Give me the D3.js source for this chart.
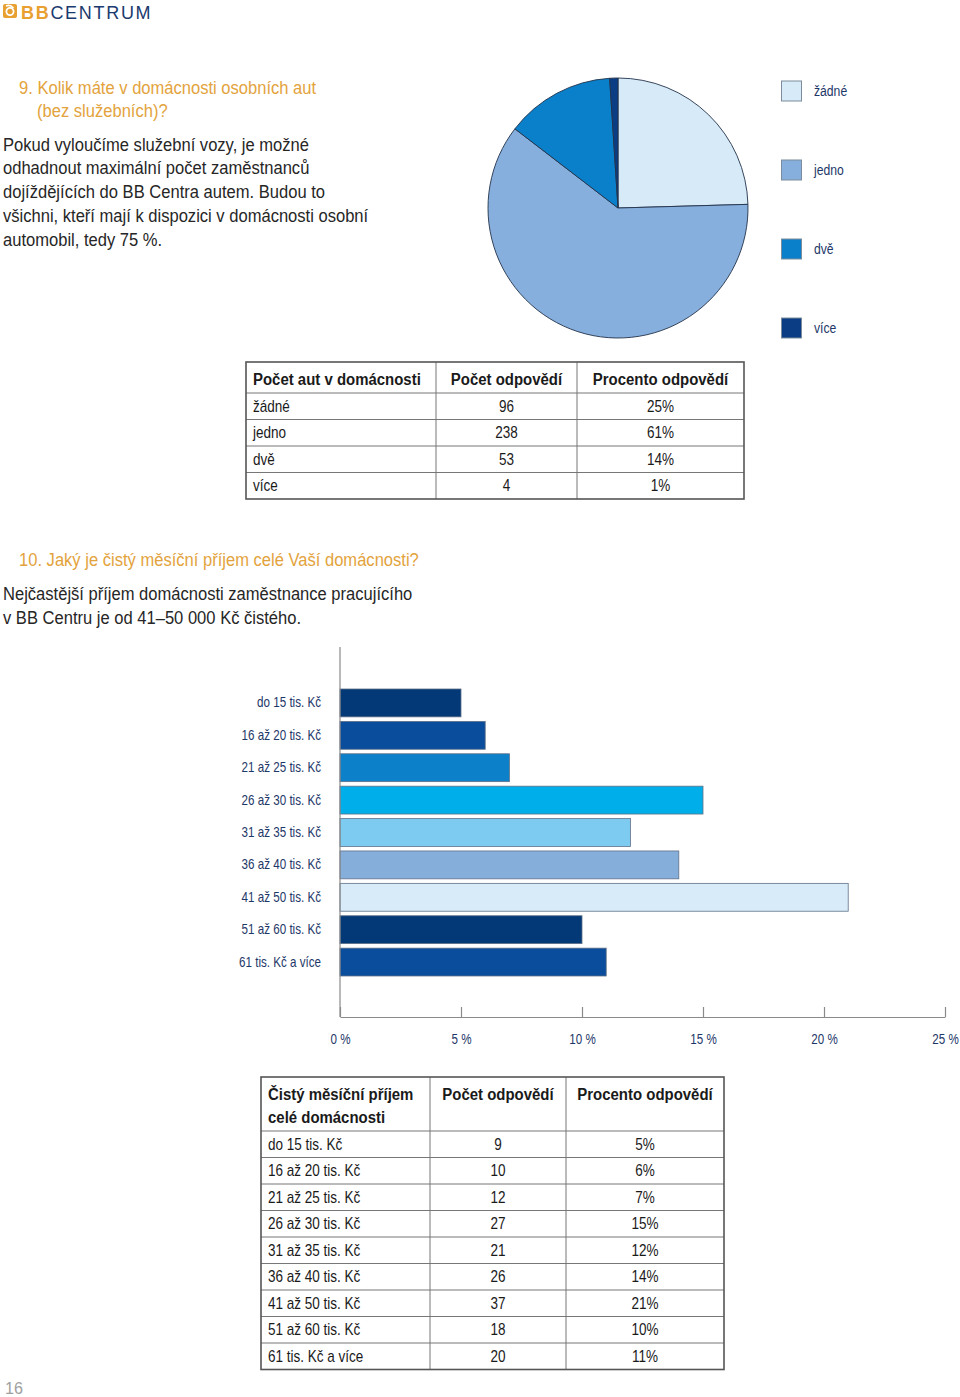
<!DOCTYPE html>
<html><head><meta charset="utf-8">
<script src="https://cdn.jsdelivr.net/npm/d3@7"></script>
<style>
html,body{margin:0;padding:0;background:#fff;}
svg{display:block;}
</style></head>
<body>
<svg id="chart" width="960" height="1397"></svg>
<script>
// ---- Data ----
const carCategories = ["žádné", "jedno", "dvě", "více"];
const carCounts = [96, 238, 53, 4];
const carPercents = ["25%", "61%", "14%", "1%"];
const carColors = ["#d6eaf8", "#87afdd", "#0a80cb", "#0b3d84"];

const incomeCategories = ["do 15 tis. Kč", "16 až 20 tis. Kč", "21 až 25 tis. Kč", "26 až 30 tis. Kč",
  "31 až 35 tis. Kč", "36 až 40 tis. Kč", "41 až 50 tis. Kč", "51 až 60 tis. Kč", "61 tis. Kč a více"];
const incomeCounts = [9, 10, 12, 27, 21, 26, 37, 18, 20];
const incomePercents = [5, 6, 7, 15, 12, 14, 21, 10, 11];
const incomeColors = ["#033977", "#0a4d9c", "#0c80c8", "#00afe9", "#7ecbf1", "#86aedb", "#d8ebf8", "#033977", "#0a4d9c"];
const incomeTicks = [0, 5, 10, 15, 20, 25];

const table1Header = ["Počet aut v domácnosti", "Počet odpovědí", "Procento odpovědí"];
const table2Header = [["Čistý měsíční příjem", "celé domácnosti"], ["Počet odpovědí"], ["Procento odpovědí"]];

const svg = d3.select("#chart");
const FONT = '"Liberation Sans",Arial,sans-serif';
const SX = 0.83; // horizontal condensing to mimic a narrow face

// narrow text helper
function ntext(g, x, y, t, o) {
  o = o || {};
  return g.append("text")
    .attr("transform", `translate(${x},${y}) scale(${o.sx || SX},1)`)
    .attr("font-family", FONT).attr("font-size", o.size || 15)
    .attr("font-weight", o.weight || "normal")
    .attr("fill", o.fill || "#1a1a1a")
    .attr("text-anchor", o.anchor || "start")
    .attr("dy", o.dy || null)
    .text(t);
}

// ---- Logo ----
const logo = svg.append("g");
logo.append("rect").attr("x", 3).attr("y", 4).attr("width", 14).attr("height", 14).attr("rx", 2).attr("fill", "#e8a030");
logo.append("circle").attr("cx", 10).attr("cy", 11.5).attr("r", 3.6).attr("fill", "none").attr("stroke", "#fff").attr("stroke-width", 1.8);
logo.append("path").attr("d", "M6 6 Q10 4 13.5 8").attr("fill", "none").attr("stroke", "#fff").attr("stroke-width", 1.6);
const lt = logo.append("text").attr("x", 21).attr("y", 18.5).attr("font-family", FONT).attr("font-size", 18).attr("letter-spacing", 1.7);
lt.append("tspan").attr("fill", "#e8a030").attr("font-weight", "bold").text("BB");
lt.append("tspan").attr("fill", "#1b3a6e").text("CENTRUM");

// ---- Text blocks ----
function textLines(lines, xs, y0, lh, color, size) {
  lines.forEach((t, i) => ntext(svg, xs[i], y0 + i * lh, t, { fill: color, size: size, sx: 0.895 }));
}
textLines(["9. Kolik máte v domácnosti osobních aut", "(bez služebních)?"], [19, 37], 93.5, 23.5, "#e3a33c", 18.5);
textLines(["Pokud vyloučíme služební vozy, je možné", "odhadnout maximální počet zaměstnanců",
  "dojíždějících do BB Centra  autem. Budou to", "všichni, kteří mají k dispozici v domácnosti osobní",
  "automobil, tedy 75 %."], [3, 3, 3, 3, 3], 150.5, 23.8, "#262626", 18.5);
textLines(["10. Jaký je čistý měsíční příjem celé Vaší domácnosti?"], [19], 565.5, 24, "#e3a33c", 18.5);
textLines(["Nejčastější příjem domácnosti zaměstnance pracujícího", "v BB Centru je od 41–50 000 Kč čistého."], [3, 3], 599.5, 24, "#262626", 18.5);

// ---- Pie ----
const pieData = d3.pie().sort(null).value(d => d)(carCounts);
const arc = d3.arc().innerRadius(0).outerRadius(130);
const pg = svg.append("g").attr("transform", "translate(618,208)");
pg.selectAll("path").data(pieData).join("path")
  .attr("d", arc).attr("fill", (d, i) => carColors[i])
  .attr("stroke", "#22324a").attr("stroke-width", 0.9);

// ---- Legend ----
const legY = d3.scalePoint().domain(carCategories).range([91.5, 328.5]);
const lg = svg.append("g");
carCategories.forEach((c, i) => {
  lg.append("rect").attr("x", 781.5).attr("y", legY(c) - 10.5).attr("width", 20).attr("height", 20)
    .attr("fill", carColors[i]).attr("stroke", "#7d8c9c").attr("stroke-width", 1);
  ntext(lg, 814, legY(c), c, { size: 14, fill: "#1d3768", dy: "0.35em", sx: 0.87 });
});

// ---- Table helper ----
function drawTable(colX, rowY, headerLines, rows, headerLH) {
  const g = svg.append("g");
  const x0 = colX[0], x1 = colX[colX.length - 1], y0 = rowY[0], y1 = rowY[rowY.length - 1];
  rowY.slice(1, -1).forEach(y => g.append("line").attr("x1", x0).attr("x2", x1).attr("y1", y).attr("y2", y)
    .attr("stroke", "#777").attr("stroke-width", 1));
  colX.slice(1, -1).forEach(x => g.append("line").attr("x1", x).attr("x2", x).attr("y1", y0).attr("y2", y1)
    .attr("stroke", "#777").attr("stroke-width", 1));
  g.append("rect").attr("x", x0).attr("y", y0).attr("width", x1 - x0).attr("height", y1 - y0)
    .attr("fill", "none").attr("stroke", "#555").attr("stroke-width", 1.6);
  headerLines.forEach((lines, ci) => {
    lines.forEach((t, li) => {
      const left = ci === 0;
      ntext(g, left ? colX[0] + 7 : (colX[ci] + colX[ci + 1]) / 2, y0 + 17 + li * headerLH, t,
        { anchor: left ? "start" : "middle", size: 17, weight: "bold", dy: "0.35em", sx: 0.88 });
    });
  });
  rows.forEach((r, ri) => {
    const yc = (rowY[ri + 1] + rowY[ri + 2]) / 2;
    r.forEach((t, ci) => {
      const left = ci === 0;
      ntext(g, left ? colX[0] + 7 : (colX[ci] + colX[ci + 1]) / 2, yc, t,
        { anchor: left ? "start" : "middle", size: 16, dy: "0.35em", sx: 0.845 });
    });
  });
}

const t1Rows = carCategories.map((c, i) => [c, String(carCounts[i]), carPercents[i]]);
const t1RowY = d3.range(5).map(i => 393 + i * 26.5);
drawTable([246, 436, 577, 744], [362].concat(t1RowY), table1Header.map(h => [h]), t1Rows, 0);

// ---- Bar chart ----
const x = d3.scaleLinear().domain([0, 25]).range([340, 945]);
const y = d3.scaleBand().domain(incomeCategories).range([689, 976]).paddingInner(0.14).paddingOuter(0);
const bg = svg.append("g");
bg.selectAll("rect").data(incomeCategories).join("rect")
  .attr("x", x(0)).attr("y", d => y(d))
  .attr("width", (d, i) => x(incomePercents[i]) - x(0)).attr("height", y.bandwidth())
  .attr("fill", (d, i) => incomeColors[i]).attr("stroke", "#5f7088").attr("stroke-width", 0.8);

svg.append("line").attr("x1", x(0)).attr("x2", x(0)).attr("y1", 647).attr("y2", 1017)
  .attr("stroke", "#8a8a8a").attr("stroke-width", 1.2);
const yAxis = svg.append("g").attr("transform", `translate(${x(0)},0)`)
  .call(d3.axisLeft(y).tickSize(0).tickPadding(19));
yAxis.select(".domain").remove();
yAxis.selectAll("text").attr("font-family", FONT).attr("font-size", 14).attr("fill", "#1d3768")
  .attr("x", -19 / SX).attr("transform", `scale(${SX},1)`);

const xAxis = svg.append("g").attr("transform", "translate(0,1017)")
  .call(d3.axisBottom(x).tickValues(incomeTicks).tickFormat(d => d + " %").tickSizeInner(-10).tickSizeOuter(0).tickPadding(17));
xAxis.select(".domain").attr("stroke", "#8a8a8a").attr("stroke-width", 1.2);
xAxis.selectAll(".tick line").attr("stroke", "#8a8a8a").attr("stroke-width", 1.2);
xAxis.selectAll("text").attr("font-family", FONT).attr("font-size", 14).attr("fill", "#1d3768")
  .attr("transform", `scale(${SX},1)`);

// ---- Table 2 ----
const t2Rows = incomeCategories.map((c, i) => [c, String(incomeCounts[i]), incomePercents[i] + "%"]);
const t2RowY = d3.range(10).map(i => 1131 + i * 26.5);
drawTable([261, 430, 566, 724], [1077].concat(t2RowY), table2Header, t2Rows, 23.5);

// page number
ntext(svg, 5, 1394, "16", { size: 17, fill: "#a0a0a0", sx: 0.95 });
</script>
</body></html>
